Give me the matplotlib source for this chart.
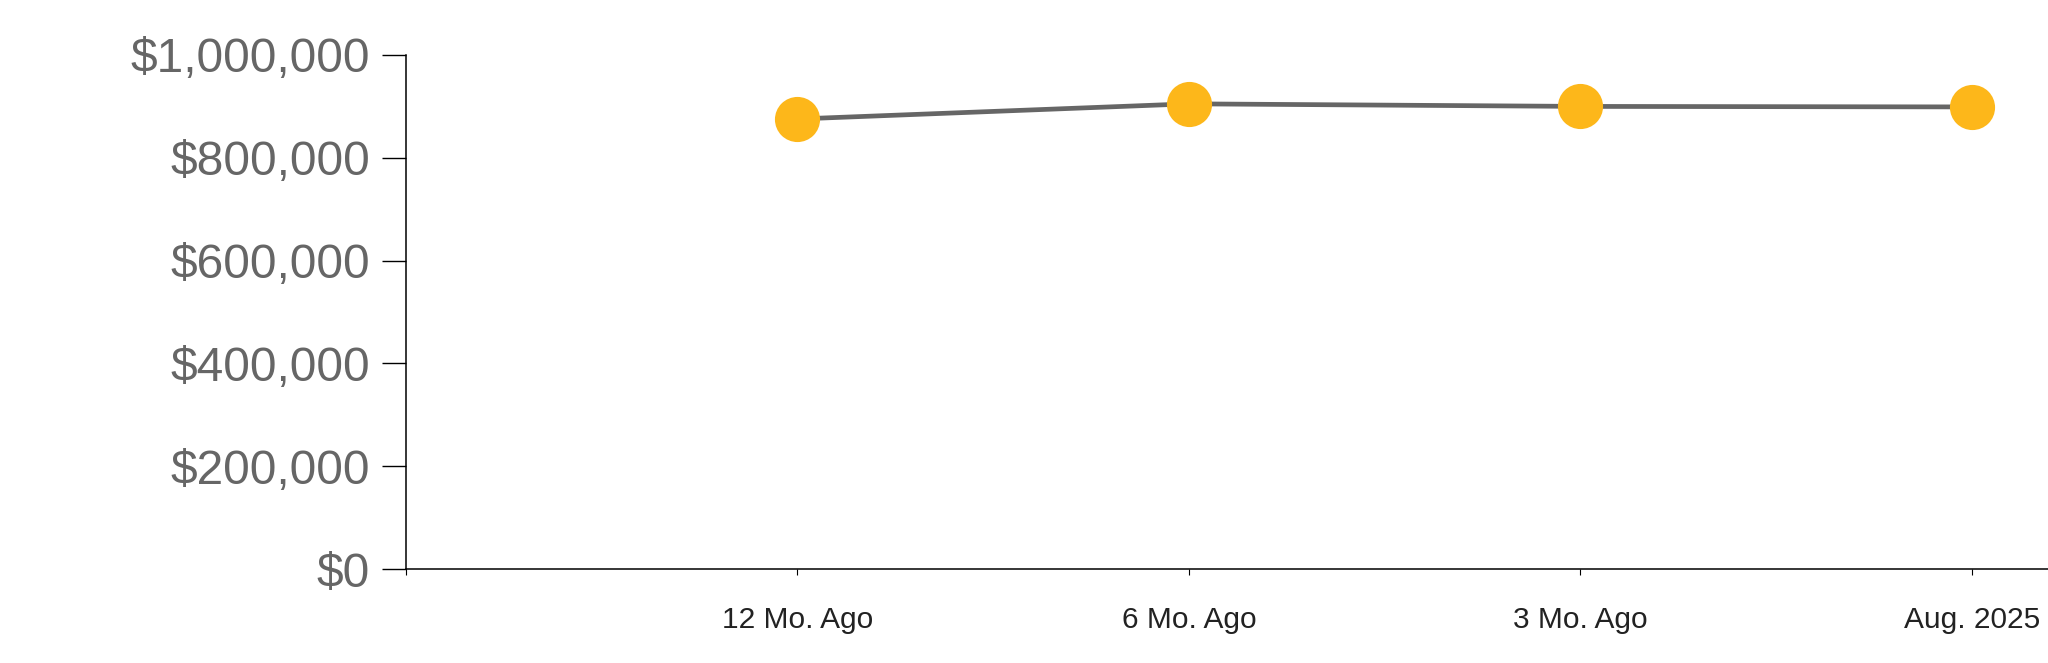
import matplotlib
matplotlib.use("Agg")
import matplotlib.pyplot as plt
from matplotlib.ticker import FuncFormatter

categories = ["12 Mo. Ago", "6 Mo. Ago", "3 Mo. Ago", "Aug. 2025"]
values = [875500, 905000, 900000, 899000]
y_ticks = [0, 200000, 400000, 600000, 800000, 1000000]

plt.rcParams['font.family'] = ['Liberation Sans', 'DejaVu Sans']

W, H = 2048, 663
fig = plt.figure(figsize=(W / 100, H / 100), dpi=100)
left, right, top, bottom = 406, 2048, 55, 569
ax = fig.add_axes([left / W, (H - bottom) / H, (right - left) / W, (bottom - top) / H])

x = list(range(1, len(categories) + 1))
ax.plot(x, values, color='#666666', linewidth=3.4, zorder=2, solid_capstyle='butt')
ax.plot(x, values, linestyle='none', marker='o', markersize=32.5,
        markerfacecolor='#FDB71A', markeredgewidth=0, zorder=3, clip_on=False)

ax.set_xlim(0, 4.195)
ax.set_ylim(0, 1000000)
ax.set_xticks([0] + x)
ax.set_xticklabels([""] + categories)
ax.set_yticks(y_ticks)
ax.yaxis.set_major_formatter(FuncFormatter(lambda v, p: "${:,.0f}".format(v)))

for s in ['top', 'right']:
    ax.spines[s].set_visible(False)
for s in ['left', 'bottom']:
    ax.spines[s].set_color('#000000')
    ax.spines[s].set_linewidth(1.1)

ax.tick_params(axis='y', length=17, width=1.0, color='#000000', pad=9,
               labelsize=34.5, labelcolor='#666666')
ax.tick_params(axis='x', length=4.5, width=0.8, color='#000000', pad=22,
               labelsize=21.5, labelcolor='#222222')

fig.savefig("out.png", dpi=100, facecolor='white')
